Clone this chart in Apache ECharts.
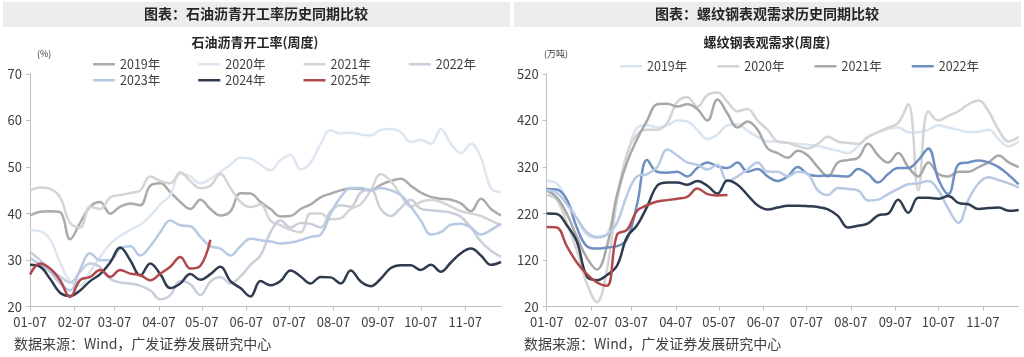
<!DOCTYPE html>
<html><head><meta charset="utf-8">
<script src="https://cdn.jsdelivr.net/npm/echarts@6/dist/echarts.min.js"></script>
<style>html,body{margin:0;padding:0;background:#fff}#c{width:1024px;height:357px}</style>
</head><body><div id="c"></div>
<script>
// ---- data ----
const years = ['2019年','2020年','2021年','2022年','2023年','2024年','2025年'];
const tickLabels = ['01-07','02-07','03-07','04-07','05-07','06-07','07-07','08-07','09-07','10-07','11-07'];
const tickDays = [0,31,59,90,120,151,181,212,243,273,304];
const weekStep = 7;

// 石油沥青开工率 (%)
const l2019 = [39.6,40.4,40.5,40.3,34.5,38,41.5,42.5,40,41.5, 42.2,41.8,46,46.5,44.6,42.5,41,43,41,39.6, 40.5,44.4,44.3,42.5,41,39.4,39.5,41,42,43.5, 44.3,45,45.4,45.3,45,46.2,47,47.5,46,44.5, 43.6,43.2,43,42.2,40.5,43.2,41,39.6];
const l2020 = [36.4,36.2,34.5,29.5,25.5,24.5,27.5,30.7,33.5,35.2, 36.5,37.6,39.5,42,44,48.5,48,46.5,47.5,49, 50.5,52,51.8,50.5,49.3,51.5,52.6,49.5,51,55, 57.9,57.2,57.4,57,56.8,58,58.2,57.5,55.4,55.8, 55,58.2,55,53,55,52,45.5,44.6];
const l2021 = [45,45.6,45.3,43.5,38,37,41.5,41,43.5,44, 44.4,45,48,47,46.5,48.9,47,45.5,46,48.5, 45.5,42.5,41.4,42,38.5,37.5,36.5,36,40,40, 38.8,39,41,42,45,48.5,47,44,41.5,42.5, 43,42.5,41.5,40.5,40,39.5,38.5,37.5];
const l2022 = [31.8,30,28,26.5,25.2,27.5,29.3,28.5,26,25.2, 25,24.5,23.5,21.6,22.5,25.5,24.8,22.5,25.4,26.4, 25,26.5,29,31,36,38.5,37,38,37.8,37, 40.5,41.8,41.5,44.5,45.2,41,39.5,41.2,43,41, 40.7,40.5,40.2,39.3,37,34,32,30.7];
const l2023 = [30.5,29,27.5,25,23.5,28,31.5,30,30,32.5, 33,31,33,36,38.5,37.5,37.3,35,33,32.5, 31,33,34.6,34.3,34,33.6,33.8,34.3,35,35.5, 40,43.5,45.5,45.5,45,45.5,45,44,41.5,38.5, 35.5,36,37.6,37.8,37,35.5,36.5,37.9];
const l2024 = [29,28.6,26,23,22.3,23.5,25.5,27,29.5,32.7, 30,26.7,29.3,27,24,25,27,25.8,27,28.6, 25.5,24,22.2,25.5,24.6,25.5,27.8,26.5,25,26.4, 26.3,25,27.8,25.4,24.4,26,28.3,28.9,28.9,27.9, 29,27.5,29.5,31.5,32.5,31,29,29.6];
const l2025 = [26.9,29.3,28.2,25.7,22.1,25.7,26.4,27.9,26.4,27.9, 27.1,26.8,25.7,27.1,28.6,30.7,28.2,28.8,34.4];

// 螺纹钢表观需求 (万吨)
const r2019 = [290,285,250,210,175,168,175,250,340,405, 410,405,410,420,418,400,380,390,410,412, 398,385,375,375,372,370,368,365,360,355, 350,365,385,395,402,405,395,395,400,410, 405,400,395,396,400,380,365,375];
const r2020 = [260,250,200,140,70,30,100,250,350,390, 400,400,415,460,470,450,475,480,460,440, 445,420,400,375,372,365,360,370,385,375, 372,370,385,395,405,415,455,270,440,420, 430,440,455,463,440,400,375,385];
const r2021 = [270,255,220,170,125,100,150,260,330,380, 420,455,456,450,455,445,420,465,435,405, 418,400,360,350,340,355,345,320,300,330, 335,340,370,345,330,350,320,300,330,305, 300,310,310,320,330,345,330,320];
const r2022 = [273,272,250,190,150,145,147,150,165,240, 335,310,308,310,300,318,330,322,318,330, 310,316,300,290,300,320,305,301,302,301, 300,316,305,287,305,318,318,335,360,294, 262,326,330,334,330,320,303,283];
const r2023 = [270,265,240,210,180,170,175,200,260,300, 305,320,358,345,330,325,315,325,290,300, 315,330,310,310,300,310,305,270,260,275, 273,270,248,250,262,273,283,285,290,270, 230,200,250,285,298,292,285,276];
const r2024 = [220,219,195,160,85,77,88,108,170,195, 235,280,287,287,282,290,280,263,291,282, 260,238,229,233,237,237,236,234,229,215, 190,194,199,216,220,250,222,254,254,252, 258,243,240,230,232,233,226,228];
const r2025 = [191,190,150,115,90,72,65,175,185,226, 238,246,249,252,256,274,262,259,260];

// ---- styling ----
const leftColors  = ['#ababab','#dde7f2','#d4d4d4','#c8cfdb','#b8c9e3','#2f3b4f','#b0484c'];
const rightColors = ['#d9e4f1','#d4d4d4','#a8a8a8','#6e8fc2','#b8c9e3','#2f3b4f','#b0484c'];
const FONT = '"Noto Sans CJK SC", "Noto Sans", sans-serif';

const toPairs = arr => arr.map((v, i) => [i * weekStep, v]);

function mkSeries(list, colors, idx) {
  return list.map((arr, k) => ({
    name: years[k], type: 'line', xAxisIndex: idx, yAxisIndex: idx,
    data: toPairs(arr), smooth: 0.4, symbol: 'none',
    lineStyle: { width: 2.5, color: colors[k] }, itemStyle: { color: colors[k] },
    emphasis: { disabled: true }, z: 2 + k
  }));
}

function xAx(idx) {
  return {
    type: 'value', gridIndex: idx, min: 0, max: 329,
    axisLine: { show: true, onZero: false, lineStyle: { color: '#bfbfbf', width: 1 } },
    axisTick: { show: true, customValues: tickDays, length: 4, lineStyle: { color: '#bfbfbf' } },
    axisLabel: { customValues: tickDays, formatter: (v) => tickLabels[tickDays.indexOf(Math.round(v))] || '',
      fontSize: 13, color: '#404040', margin: 9, fontFamily: FONT },
    splitLine: { show: false }
  };
}
function yAx(idx, min, max, interval) {
  return {
    type: 'value', gridIndex: idx, min, max, interval,
    axisLine: { show: true, lineStyle: { color: '#bfbfbf', width: 1 } },
    axisTick: { show: true, length: 4, lineStyle: { color: '#bfbfbf' } },
    axisLabel: { fontSize: 13, color: '#404040', margin: 8, fontFamily: FONT },
    splitLine: { show: false }
  };
}
function legend(from, to, colors, left, top, gap) {
  return {
    data: years.slice(from, to).map((n, j) => ({ name: n, itemStyle: { color: colors[from + j] } })),
    left, top, itemGap: gap, itemWidth: 22, itemHeight: 2.5,
    icon: 'rect', textStyle: { fontSize: 12.5, color: '#404040', fontFamily: FONT },
    selectedMode: false, padding: 0
  };
}
function txt(text, left, top, size, bold, align) {
  return { text, left, top, padding: 0, textAlign: align || 'left',
    textStyle: { fontSize: size, fontWeight: bold ? 'bold' : 'normal', color: bold ? '#262626' : '#404040', fontFamily: FONT } };
}

const chart = echarts.init(document.getElementById('c'));
chart.setOption({
  animation: false,
  backgroundColor: '#ffffff',
  graphic: [
    { type: 'rect', shape: { x: 3, y: 2, width: 507, height: 25 }, style: { fill: '#ececec' }, silent: true },
    { type: 'rect', shape: { x: 514, y: 2, width: 507, height: 25 }, style: { fill: '#ececec' }, silent: true }
  ],
  title: [
    txt('图表：石油沥青开工率历史同期比较', 256, 7, 14, true, 'center'),
    txt('图表：螺纹钢表观需求历史同期比较', 767, 7, 14, true, 'center'),
    txt('石油沥青开工率(周度)', 255, 36, 13, true, 'center'),
    txt('螺纹钢表观需求(周度)', 767, 36, 13, true, 'center'),
    txt('(%)', 37, 49, 9, false),
    txt('(万吨)', 544, 49, 9, false),
    txt('数据来源：Wind，广发证券发展研究中心', 14, 337, 14, false),
    txt('数据来源：Wind，广发证券发展研究中心', 524, 337, 14, false)
  ],
  legend: [
    legend(0, 4, leftColors, 93, 58, 38),
    legend(4, 7, leftColors, 93, 74, 38),
    legend(0, 4, rightColors, 620, 60, 30)
  ],
  grid: [
    { left: 30, top: 74, width: 471, height: 232.7, containLabel: false },
    { left: 546.7, top: 74, width: 472, height: 232.7, containLabel: false }
  ],
  xAxis: [xAx(0), xAx(1)],
  yAxis: [yAx(0, 20, 70, 10), yAx(1, 20, 520, 100)],
  series: [
    ...mkSeries([l2019, l2020, l2021, l2022, l2023, l2024, l2025], leftColors, 0),
    ...mkSeries([r2019, r2020, r2021, r2022, r2023, r2024, r2025], rightColors, 1)
  ]
});
</script>
</body></html>
